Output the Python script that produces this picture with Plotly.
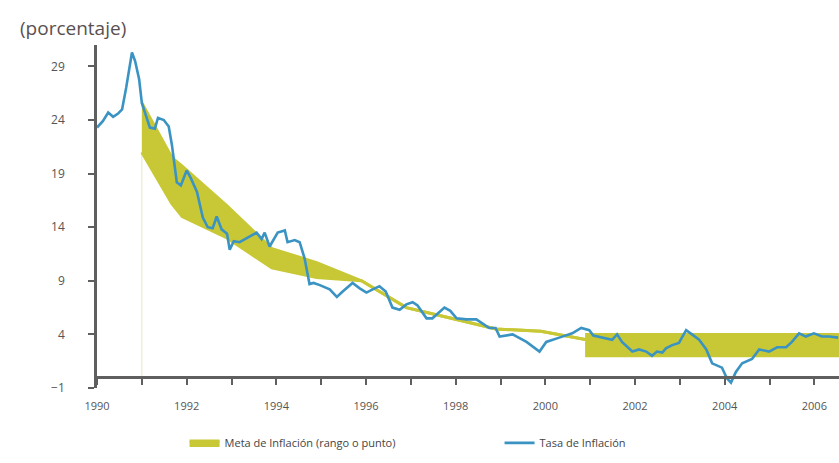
import plotly.graph_objects as go

# Tasa de Inflación (decimal year, %)
infl_t = [1990.00, 1990.13, 1990.25, 1990.36, 1990.47, 1990.56, 1990.65, 1990.78, 1990.85, 1990.94,
          1991.00, 1991.09, 1991.18, 1991.29, 1991.36, 1991.49, 1991.60, 1991.67, 1991.78, 1991.87,
          1992.00, 1992.09, 1992.23, 1992.36, 1992.47, 1992.58, 1992.67, 1992.78, 1992.90, 1992.96,
          1993.05, 1993.18, 1993.34, 1993.56, 1993.67, 1993.74, 1993.85, 1993.92, 1994.03, 1994.19,
          1994.25, 1994.41, 1994.52, 1994.63, 1994.74, 1994.83, 1994.97, 1995.19, 1995.35, 1995.48,
          1995.70, 1995.86, 1996.01, 1996.15, 1996.30, 1996.44, 1996.59, 1996.75, 1996.90, 1997.04,
          1997.15, 1997.35, 1997.48, 1997.75, 1997.88, 1998.02, 1998.24, 1998.46, 1998.75, 1998.89,
          1998.98, 1999.27, 1999.58, 1999.87, 2000.02, 2000.31, 2000.60, 2000.80, 2000.98, 2001.07,
          2001.27, 2001.49, 2001.60, 2001.71, 2001.94, 2002.09, 2002.25, 2002.38, 2002.49, 2002.61,
          2002.69, 2002.83, 2002.98, 2003.14, 2003.27, 2003.43, 2003.59, 2003.72, 2003.94, 2004.05,
          2004.14, 2004.25, 2004.39, 2004.61, 2004.77, 2004.99, 2005.17, 2005.37, 2005.50, 2005.66,
          2005.81, 2005.99, 2006.17, 2006.33, 2006.53]
infl_v = [23.3, 23.9, 24.7, 24.3, 24.6, 25.0, 27.0, 30.3, 29.5, 27.8,
          25.6, 24.5, 23.3, 23.2, 24.2, 24.0, 23.4, 21.7, 18.2, 17.9,
          19.3, 18.6, 17.3, 14.9, 14.0, 13.9, 15.0, 13.8, 13.4, 11.9,
          12.7, 12.6, 13.0, 13.5, 12.9, 13.5, 12.2, 12.7, 13.5, 13.7,
          12.6, 12.8, 12.6, 11.1, 8.7, 8.8, 8.6, 8.2, 7.5, 8.0,
          8.8, 8.3, 7.9, 8.2, 8.5, 8.0, 6.5, 6.3, 6.8, 7.0,
          6.7, 5.5, 5.5, 6.5, 6.2, 5.5, 5.4, 5.4, 4.6, 4.6,
          3.8, 4.0, 3.3, 2.4, 3.3, 3.7, 4.1, 4.6, 4.4, 3.9,
          3.7, 3.5, 4.0, 3.3, 2.4, 2.6, 2.4, 2.0, 2.4, 2.3,
          2.7, 3.0, 3.2, 4.4, 4.0, 3.5, 2.6, 1.3, 0.9, -0.1,
          -0.5, 0.5, 1.3, 1.7, 2.6, 2.4, 2.8, 2.8, 3.3, 4.1,
          3.8, 4.1, 3.8, 3.8, 3.7]

# Meta de Inflación (rango o punto)
target_t = [1991.0, 1991.67, 1991.9, 1992.9, 1993.9, 1994.9, 1995.9, 1996.9, 1997.9,
            1998.9, 1999.9, 2000.92, 2000.92, 2007.0]
target_low = [21.0, 16.2, 15.0, 13.0, 10.2, 9.3, 9.0, 6.5, 5.5, 4.5, 4.3, 3.5, 2.0, 2.0]
target_high = [25.6, 20.5, 19.7, 16.0, 12.0, 10.7, 9.0, 6.5, 5.5, 4.5, 4.3, 3.5, 4.0, 4.0]

year_ticks = list(range(1990, 2007))
year_labels = [str(y) if y % 2 == 0 else "" for y in year_ticks]
y_ticks = [-1, 4, 9, 14, 19, 24, 29]

YELLOW = "#c8c836"
BLUE = "#3a93c3"
AXIS = "#5f5f5f"
FONT = "Open Sans"

fig = go.Figure()

# faint start line of the target band
fig.add_trace(go.Scatter(x=[target_t[0], target_t[0]], y=[0, target_low[0]], mode="lines",
                         line=dict(color="rgba(215,215,150,0.6)", width=1),
                         showlegend=False, hoverinfo="skip"))
fig.add_trace(go.Scatter(x=target_t, y=target_low, mode="lines",
                         line=dict(color=YELLOW, width=3), showlegend=False, hoverinfo="skip"))
fig.add_trace(go.Scatter(x=target_t, y=target_high, mode="lines", fill="tonexty",
                         fillcolor=YELLOW, line=dict(color=YELLOW, width=3),
                         name="Meta de Inflación (rango o punto)"))
fig.add_trace(go.Scatter(x=infl_t, y=infl_v, mode="lines",
                         line=dict(color=BLUE, width=2.6), name="Tasa de Inflación"))

fig.update_layout(
    width=839, height=463,
    margin=dict(l=97, r=0, t=45, b=75),
    paper_bgcolor="white", plot_bgcolor="white",
    font=dict(family=FONT, color="#555555"),
    xaxis=dict(range=[1990, 2006.55], tickvals=year_ticks, ticktext=year_labels,
               showgrid=False, zeroline=False, showline=True, linecolor=AXIS, linewidth=2.5,
               ticks="outside", ticklen=6, tickwidth=1.5, tickcolor=AXIS,
               anchor="free", position=1/32, ticklabelstandoff=12,
               tickfont=dict(size=11, color="#555555")),
    yaxis=dict(range=[-1, 31], tickvals=y_ticks, showgrid=False, zeroline=False,
               showline=True, linecolor=AXIS, linewidth=2.5,
               ticks="outside", ticklen=6, tickwidth=1.5, tickcolor=AXIS,
               ticklabelstandoff=21, tickfont=dict(size=12, color="#555555")),
    legend=dict(orientation="h", x=0.118, y=-0.16, xanchor="left", yanchor="middle",
                font=dict(size=11, color="#444444"), entrywidth=270, traceorder="normal"),
    showlegend=True,
    annotations=[dict(text="(porcentaje)", xref="paper", yref="paper", x=-0.107, y=1.05,
                      xanchor="left", yanchor="middle", showarrow=False,
                      font=dict(size=19, color="#5a5050", family=FONT))],
)

# remove the default page margin so the figure fills the window exactly
fig.write_html("out.html", config={"displayModeBar": False},
               post_script="document.body.style.margin='0';document.body.style.overflow='hidden';")
